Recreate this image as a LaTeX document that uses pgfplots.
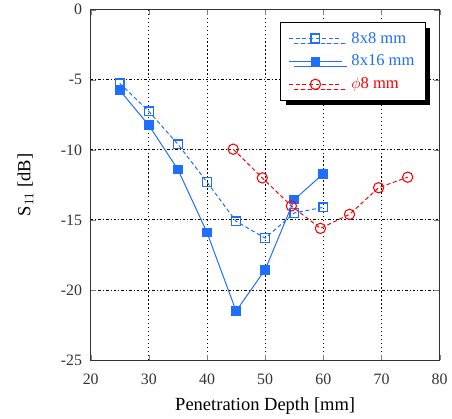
\documentclass[border=0pt]{standalone}
\usepackage{fontspec}
\setmainfont{Liberation Serif}
\usepackage{pgfplots}
\pgfplotsset{compat=1.18}
\usetikzlibrary{shadows}
\definecolor{sblue}{RGB}{30,110,255}
\definecolor{sred}{RGB}{255,0,0}
\begin{document}
\begin{tikzpicture}
\begin{axis}[
    scale only axis,
    width=264pt,
    height=265pt,
    xmin=20, xmax=80,
    ymin=-25, ymax=0,
    xtick={20,30,...,80},
    ytick={-25,-20,...,0},
    /pgf/number format/assume math mode=true,
    tick align=inside,
    major tick length=4pt,
    ticklabel style={font=\fontsize{12}{14}\selectfont, text=black!80},
    xticklabel shift=7pt,
    yticklabel shift=3pt,
    grid=major,
    x grid style={black, line width=0.7pt, dash pattern=on 1pt off 2pt},
    y grid style={black, line width=0.7pt, dash pattern=on 2pt off 1.5pt on 0.8pt off 1.5pt},
    axis line style={black!80, line width=0.8pt},
    xlabel={Penetration Depth [mm]},
    ylabel={S$_{11}$ [dB]},
    label style={font=\fontsize{14}{16}\selectfont},
    xlabel shift=3pt,
    ylabel shift=14pt,
    legend style={at={(0.959,0.964)}, anchor=north east, draw=black, fill=white,
        line width=0.6pt,
        drop shadow={shadow xshift=4pt, shadow yshift=-4pt, fill=black, opacity=1},
        font=\fontsize{12.5}{14}\selectfont, row sep=3.5pt, inner xsep=6pt, inner ysep=5pt,
        /tikz/every odd column/.append style={column sep=5pt}},
    legend cell align=left,
    legend image code/.code={
        \draw[mark repeat=2,mark phase=2] plot coordinates {(0cm,0cm) (0.7cm,0cm) (1.4cm,0cm)};
    },
]

% 8x8 mm
\addplot[color=sblue, densely dashed, line width=0.75pt, mark=square, mark size=3.3pt, mark options={solid, fill=white, line width=1pt}] coordinates {
    (25,-5.25) (30,-7.25) (35,-9.6) (40,-12.3) (45,-15.1) (50,-16.3) (55,-14.5) (60,-14.1)
};
\addlegendentry[text=sblue]{8x8 mm}

% 8x16 mm
\addplot[color=sblue, line width=0.75pt, mark=square*, mark size=3.3pt, mark options={solid}] coordinates {
    (25,-5.75) (30,-8.25) (35,-11.4) (40,-15.9) (45,-21.5) (50,-18.55) (55,-13.55) (60,-11.7)
};
\addlegendentry[text=sblue]{8x16 mm}

% phi 8 mm
\addplot[color=sred, densely dashed, line width=0.75pt, mark=o, mark size=3.9pt, mark options={solid, fill=white, line width=0.8pt}] coordinates {
    (44.5,-9.95) (49.5,-12.0) (54.5,-14.0) (59.5,-15.6) (64.5,-14.6) (69.5,-12.7) (74.5,-11.95)
};
\addlegendentry[text=sred]{$\phi$8 mm}

\end{axis}
\path ([xshift=-10pt]current bounding box.west);
\end{tikzpicture}
\end{document}
